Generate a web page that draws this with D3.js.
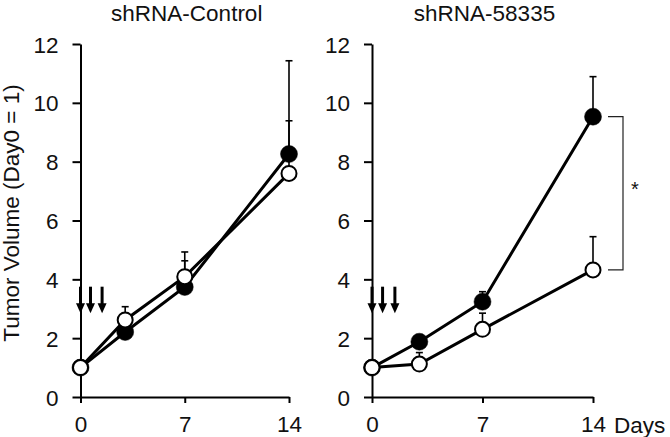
<!DOCTYPE html>
<html><head><meta charset="utf-8">
<script src="https://cdn.jsdelivr.net/npm/d3@7"></script>
<style>body{margin:0;background:#fff;}svg{display:block;font-family:"Liberation Sans",Arial,sans-serif;}</style>
</head><body>
<svg id="c" width="670" height="437"></svg>
<script>
const days = [0, 3, 7, 14];
const xTicks = [0, 7, 14];
const yTicks = [0, 2, 4, 6, 8, 10, 12];
const panelTitles = ["shRNA-Control", "shRNA-58335"];
// filled (black) series
const ctrlFilled = [1, 2.21, 3.74, 8.26];
const ctrlFilledErr = [1, 2.5, 4.63, 11.43];
const ctrlOpen = [1, 2.62, 4.09, 7.6];
const ctrlOpenErr = [1, 3.07, 4.93, 9.39];
const kdFilled = [1, 1.88, 3.24, 9.53];
const kdFilledErr = [1, 2.0, 3.58, 10.89];
const kdOpen = [1, 1.12, 2.30, 4.32];
const kdOpenErr = [1, 1.51, 2.85, 5.45];
const arrowDays = [0, 0.67, 1.45];
const arrowRange = [3.75, 2.85];
const yLabel = "Tumor Volume (Day0 = 1)";
const xUnit = "Days";
const sigLabel = "*";

const FS = 22.5;
const svg = d3.select("#c");
const y = d3.scaleLinear().domain([0, 12]).range([397, 44]);
const panels = [
  {x: d3.scaleLinear().domain([0, 14]).range([80.5, 289]), filled: ctrlFilled, filledErr: ctrlFilledErr, open: ctrlOpen, openErr: ctrlOpenErr, title: panelTitles[0]},
  {x: d3.scaleLinear().domain([0, 14]).range([372, 593]), filled: kdFilled, filledErr: kdFilledErr, open: kdOpen, openErr: kdOpenErr, title: panelTitles[1]}
];

panels.forEach((p, pi) => {
  const g = svg.append("g");
  const x = p.x;
  const ya = g.append("g").attr("transform", `translate(${x(0)},0)`)
    .call(d3.axisLeft(y).tickValues(yTicks).tickSize(8).tickPadding(14).tickSizeOuter(0));
  const xa = g.append("g").attr("transform", `translate(0,${y(0)})`)
    .call(d3.axisBottom(x).tickValues(xTicks).tickSize(6).tickPadding(13).tickSizeOuter(0));
  [ya, xa].forEach(a => {
    a.select(".domain").attr("stroke", "#000").attr("stroke-width", 2);
    a.selectAll(".tick line").attr("stroke", "#000").attr("stroke-width", 2);
    a.selectAll(".tick text").attr("fill", "#111").attr("font-size", FS)
      .attr("font-family", '"Liberation Sans",Arial,sans-serif');
  });
  ya.selectAll(".tick text").attr("dy", "0.36em");
  g.append("text").attr("x", (x(0) + x(14)) / 2 + 2).attr("y", 21).attr("text-anchor", "middle")
    .attr("font-size", FS).attr("fill", "#111").text(p.title);
  arrowDays.forEach(d => {
    const ax = x(d), y1 = y(arrowRange[0]), y2 = y(arrowRange[1]);
    g.append("line").attr("x1", ax).attr("x2", ax).attr("y1", y1).attr("y2", y2 - 8)
      .attr("stroke", "#000").attr("stroke-width", 3);
    g.append("path").attr("d", `M${ax - 4.5},${y2 - 10}L${ax + 4.5},${y2 - 10}L${ax},${y2}Z`).attr("fill", "#000");
  });
  const series = [
    {v: p.filled, e: p.filledErr, fill: "#000", r: 8.5},
    {v: p.open, e: p.openErr, fill: "#fff", r: 7.5}
  ];
  series.forEach(s => {
    days.forEach((d, i) => {
      if (s.e[i] <= s.v[i]) return;
      g.append("line").attr("x1", x(d)).attr("x2", x(d)).attr("y1", y(s.v[i])).attr("y2", y(s.e[i]))
        .attr("stroke", "#000").attr("stroke-width", 1.6);
      g.append("line").attr("x1", x(d) - 3.5).attr("x2", x(d) + 3.5).attr("y1", y(s.e[i])).attr("y2", y(s.e[i]))
        .attr("stroke", "#000").attr("stroke-width", 1.6);
    });
  });
  const line = d3.line().x((v, i) => x(days[i])).y(v => y(v));
  series.forEach(s => {
    g.append("path").attr("d", line(s.v)).attr("fill", "none").attr("stroke", "#000").attr("stroke-width", 3);
  });
  series.forEach(s => {
    g.selectAll(null).data(s.v).enter().append("circle")
      .attr("cx", (v, i) => x(days[i])).attr("cy", v => y(v)).attr("r", s.r)
      .attr("fill", s.fill).attr("stroke", "#000").attr("stroke-width", s.fill === "#fff" ? 2 : 0.5);
  });
  if (pi === 1) {
    const last = days.length - 1;
    const bx1 = x(14) + 15, bx2 = x(14) + 30;
    g.append("path").attr("d", `M${bx1},${y(p.filled[last])}H${bx2}V${y(p.open[last])}H${bx1}`)
      .attr("fill", "none").attr("stroke", "#222").attr("stroke-width", 1.2);
    g.append("text").attr("x", bx2 + 12).attr("y", (y(p.filled[last]) + y(p.open[last])) / 2 + 3)
      .attr("text-anchor", "middle").attr("font-size", 20).attr("fill", "#111").text(sigLabel);
    g.append("text").attr("x", 614).attr("y", 433).attr("font-size", FS).attr("fill", "#111").text(xUnit);
  }
});
svg.append("text").attr("transform", "translate(19,213) rotate(-90)").attr("text-anchor", "middle")
  .attr("font-size", FS).attr("fill", "#111").text(yLabel);
</script>
</body></html>
